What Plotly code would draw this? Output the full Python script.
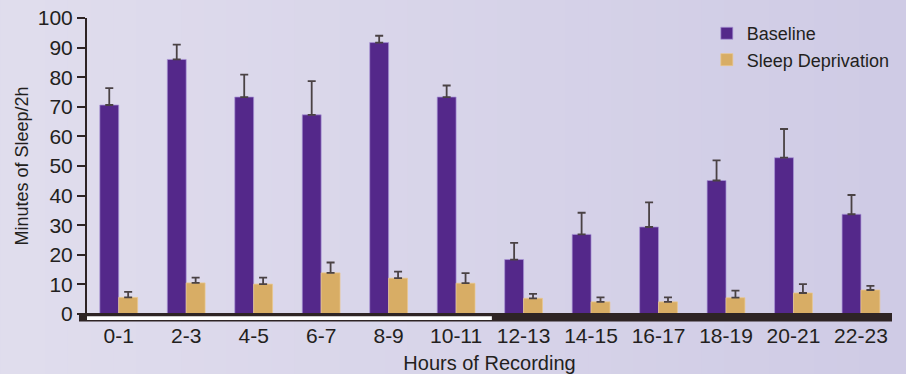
import plotly.graph_objects as go

categories = ["0-1", "2-3", "4-5", "6-7", "8-9", "10-11",
              "12-13", "14-15", "16-17", "18-19", "20-21", "22-23"]
baseline = [70.6, 86.0, 73.3, 67.3, 91.7, 73.3, 18.4, 26.9, 29.4, 45.1, 52.8, 33.7]
baseline_err = [5.7, 5.0, 7.6, 11.4, 2.3, 3.9, 5.6, 7.3, 8.3, 6.8, 9.7, 6.5]
sleep_dep = [5.6, 10.5, 10.1, 13.9, 12.1, 10.4, 5.3, 4.1, 4.1, 5.5, 7.1, 8.1]
sleep_dep_err = [1.9, 1.8, 2.2, 3.5, 2.2, 3.4, 1.5, 1.5, 1.5, 2.4, 3.0, 1.4]
y_ticks = [0, 10, 20, 30, 40, 50, 60, 70, 80, 90, 100]

W, H = 906, 374
ML, MR, MT, MB = 87, 13, 18, 60
font_family = "Liberation Sans, Arial, sans-serif"
text_color = "#231f20"
axis_color = "#2e2424"
err_color = "#4a4244"

fig = go.Figure()
fig.add_trace(go.Bar(
    x=categories, y=baseline, name="Baseline",
    marker=dict(color="#54288a", line=dict(color="rgba(170,150,215,0.7)", width=1)),
    error_y=dict(type="data", array=baseline_err, arrayminus=[0] * len(baseline_err),
                 symmetric=False, color=err_color, thickness=1.8, width=4),
))
fig.add_trace(go.Bar(
    x=categories, y=sleep_dep, name="Sleep Deprivation",
    marker=dict(color="#d8ad65", line=dict(color="rgba(235,200,140,0.7)", width=1)),
    error_y=dict(type="data", array=sleep_dep_err, arrayminus=[0] * len(sleep_dep_err),
                 symmetric=False, color=err_color, thickness=1.8, width=4),
))

shapes = []
# background horizontal gradient via thin stripes
n = 40
pw = W - ML - MR
ph = H - MT - MB
left_paper = -ML / pw
right_paper = 1 + MR / pw
c0 = (224, 221, 237)
c1 = (207, 203, 229)
for i in range(n):
    t = i / (n - 1)
    col = tuple(round(c0[k] + (c1[k] - c0[k]) * t) for k in range(3))
    x0 = left_paper + (right_paper - left_paper) * i / n
    x1 = left_paper + (right_paper - left_paper) * (i + 1) / n + 0.002
    shapes.append(dict(type="rect", xref="paper", yref="paper",
                       x0=x0, x1=x1, y0=-MB / ph - 0.02,
                       y1=1 + MT / ph + 0.02,
                       fillcolor="rgb(%d,%d,%d)" % col, line=dict(width=0), layer="below"))

band_left = -8 / pw
# x-axis line
shapes.append(dict(type="line", xref="paper", yref="paper", x0=band_left, x1=1,
                   y0=0, y1=0, line=dict(color=axis_color, width=2)))
# light/dark band below axis
shapes.append(dict(type="rect", xref="paper", yref="paper", x0=band_left, x1=1,
                   y0=-7.5 / ph, y1=-1 / ph, fillcolor=axis_color, line=dict(width=0)))
shapes.append(dict(type="rect", xref="x", yref="paper", x0=-0.47 - 8 / 67.2, x1=5.53,
                   y0=-6 / ph, y1=-2.3 / ph, fillcolor="white", line=dict(width=0)))

fig.update_layout(
    width=W, height=H,
    margin=dict(l=ML, r=MR, t=MT, b=MB),
    paper_bgcolor="#d8d4ea", plot_bgcolor="rgba(0,0,0,0)",
    barmode="group", bargap=0.44, bargroupgap=0,
    font=dict(family=font_family, color=text_color),
    shapes=shapes,
    showlegend=True,
    legend=dict(x=0.769, y=1.01, xanchor="left", yanchor="top",
                bgcolor="rgba(0,0,0,0)", font=dict(size=18, color=text_color),
                itemwidth=30, tracegroupgap=0),
    xaxis=dict(type="category", range=[-0.47, 11.46], showgrid=False, zeroline=False,
               showline=False, automargin=False,
               ticks="outside", ticklen=3, tickcolor="rgba(0,0,0,0)",
               tickfont=dict(size=21, color=text_color),
               title=dict(text="Hours of Recording", font=dict(size=20, color=text_color),
                          standoff=10)),
    yaxis=dict(range=[0, 100], tickvals=y_ticks, showgrid=False, zeroline=False,
               showline=True, linecolor=axis_color, linewidth=2, automargin=False,
               ticks="outside", ticklen=8, tickwidth=2, tickcolor=axis_color,
               ticklabelstandoff=0,
               tickfont=dict(size=21, color=text_color),
               title=dict(text="Minutes of Sleep/2h", font=dict(size=18, color=text_color),
                          standoff=4)),
)

fig.write_html("out.html")
